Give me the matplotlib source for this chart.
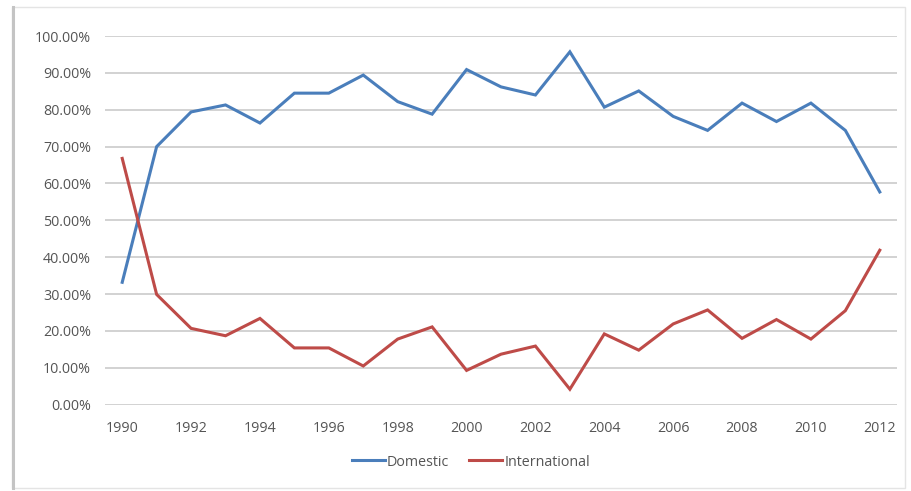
import matplotlib.pyplot as plt
from matplotlib.patches import Rectangle
from matplotlib.ticker import FuncFormatter

plt.rcParams['font.family'] = ['Open Sans', 'DejaVu Sans']

years = list(range(1990, 2013))
domestic = [33.2, 70.0, 79.4, 81.3, 76.4, 84.5, 84.5, 89.4, 82.2, 78.8, 90.9, 86.2,
            84.0, 95.7, 80.7, 85.1, 78.2, 74.4, 81.8, 76.8, 81.8, 74.4, 57.7]
international = [66.8, 29.9, 20.7, 18.7, 23.4, 15.4, 15.4, 10.5, 17.8, 21.1, 9.3, 13.7,
                 15.9, 4.2, 19.2, 14.8, 21.9, 25.7, 18.0, 23.1, 17.8, 25.5, 41.9]
year_ticks = list(range(1990, 2013, 2))

blue = '#4a7ebb'
red = '#be4b48'
text_col = '#555555'

fig = plt.figure(figsize=(9.11, 4.91), dpi=100)
ax = fig.add_axes([105 / 911, 1 - 404.7 / 491, (897 - 105) / 911, (404.7 - 36) / 491])

ax.plot(years, domestic, color=blue, lw=2.2, label='Domestic', solid_joinstyle='miter')
ax.plot(years, international, color=red, lw=2.2, label='International', solid_joinstyle='miter')

ax.set_xlim(1989.5, 2012.5)
ax.set_ylim(0, 100)
ax.set_yticks(range(0, 101, 10))
ax.yaxis.set_major_formatter(FuncFormatter(lambda v, _: f'{v:.2f}%'))
ax.set_xticks(year_ticks)

ax.grid(axis='y', color='#cfcfcf', lw=1.3)
ax.set_axisbelow(True)
for s in ax.spines.values():
    s.set_visible(False)
ax.tick_params(length=0, labelsize=10.3, colors=text_col)
ax.tick_params(axis='x', pad=12)
ax.tick_params(axis='y', pad=10)

leg = fig.legend(loc='center', bbox_to_anchor=(471 / 911, 1 - 462 / 491), ncol=2,
                 frameon=False, fontsize=10.3, handlelength=2.3, handletextpad=0.15,
                 columnspacing=1.4)
for t in leg.get_texts():
    t.set_color(text_col)

# outer chart frame
fig.patches.append(Rectangle((12 / 911, 3 / 491), (905 - 12) / 911, (484 - 3) / 491,
                             transform=fig.transFigure, fill=False,
                             edgecolor='#e4e4e4', lw=1.0))
fig.add_artist(plt.Line2D([12.5 / 911, 12.5 / 911], [3 / 491, 484 / 491],
                          transform=fig.transFigure, color='#c4c4c4', lw=2.2))

fig.savefig('out.png', dpi=100, facecolor='white')
